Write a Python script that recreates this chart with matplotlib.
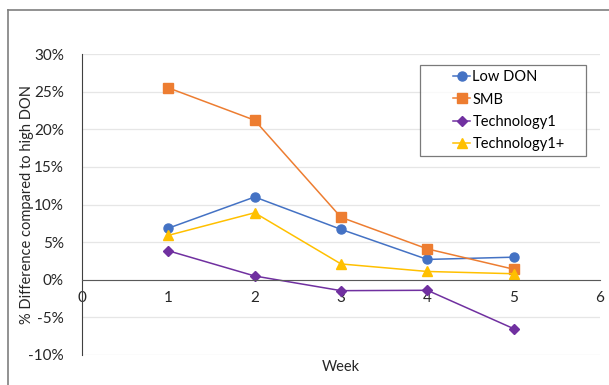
from matplotlib import pyplot as plt
from matplotlib.lines import Line2D
from matplotlib.legend_handler import HandlerLine2D
from matplotlib.ticker import PercentFormatter

plt.rcParams['font.family'] = ['Lato', 'DejaVu Sans']
plt.rcParams['axes.unicode_minus'] = False

weeks = [1, 2, 3, 4, 5]
low_don = [6.85, 11.0, 6.7, 2.7, 3.0]
smb = [25.5, 21.2, 8.3, 4.1, 1.4]
technology1 = [3.85, 0.5, -1.45, -1.4, -6.5]
technology1_plus = [5.9, 8.9, 2.1, 1.1, 0.8]

SERIES = [
    ("Low DON", low_don, "#4472C4", "o", 6.5),
    ("SMB", smb, "#ED7D31", "s", 6.5),
    ("Technology1", technology1, "#7030A0", "D", 5),
    ("Technology1+", technology1_plus, "#FFC000", "^", 7.5),
]

fig = plt.figure(figsize=(6.09, 3.85), dpi=100)
ax = fig.add_axes([82 / 609, 1 - 355 / 385, 518 / 609, 301 / 385])

for name, values, color, marker, size in SERIES:
    ax.plot(weeks, values, label=name, color=color, marker=marker,
            markersize=size, linewidth=1.1)

ax.set_xlim(0, 6)
ax.set_ylim(-10, 30)
ax.set_yticks(range(-10, 31, 5))
ax.yaxis.set_major_formatter(PercentFormatter(decimals=0))
ax.grid(axis='y', color='#e6e6e6', linewidth=0.9)
ax.set_axisbelow(True)

ax.spines['bottom'].set_position(('data', 0))
ax.spines['bottom'].set_color('#595959')
ax.spines['left'].set_color('#404040')
ax.spines['top'].set_visible(False)
ax.spines['right'].set_visible(False)
ax.tick_params(length=0, labelsize=11, colors='#262626')
ax.tick_params(axis='x', pad=8)
ax.tick_params(axis='y', pad=13)

ax.set_xlabel("Week", fontsize=10.5, color='#262626')
ax.xaxis.set_label_coords(0.5, -0.017)
ax.set_ylabel("% Difference compared to high DON", fontsize=10.5, color='#262626')
ax.yaxis.set_label_coords(-0.093, 0.5)

lgd = ax.legend(loc='upper left', bbox_to_anchor=(0.6525, 0.658, 0.3205, 0.305),
                mode='expand', fontsize=10.5,
                frameon=True, fancybox=False, edgecolor='#595959',
                handlelength=3.1, labelspacing=0.57, borderpad=0.35,
                handletextpad=0.15, borderaxespad=0,
                handler_map={Line2D: HandlerLine2D(xpad=1.9)})
lgd.get_frame().set_linewidth(0.9)

# outer chart frame (top and left edges visible)
fig.add_artist(Line2D([7.5 / 609, 1], [1 - 10 / 385, 1 - 10 / 385], color='#7f7f7f', linewidth=1.2))
fig.add_artist(Line2D([7.5 / 609, 7.5 / 609], [0, 1 - 10 / 385], color='#7f7f7f', linewidth=1.2))

fig.savefig("out.png")
